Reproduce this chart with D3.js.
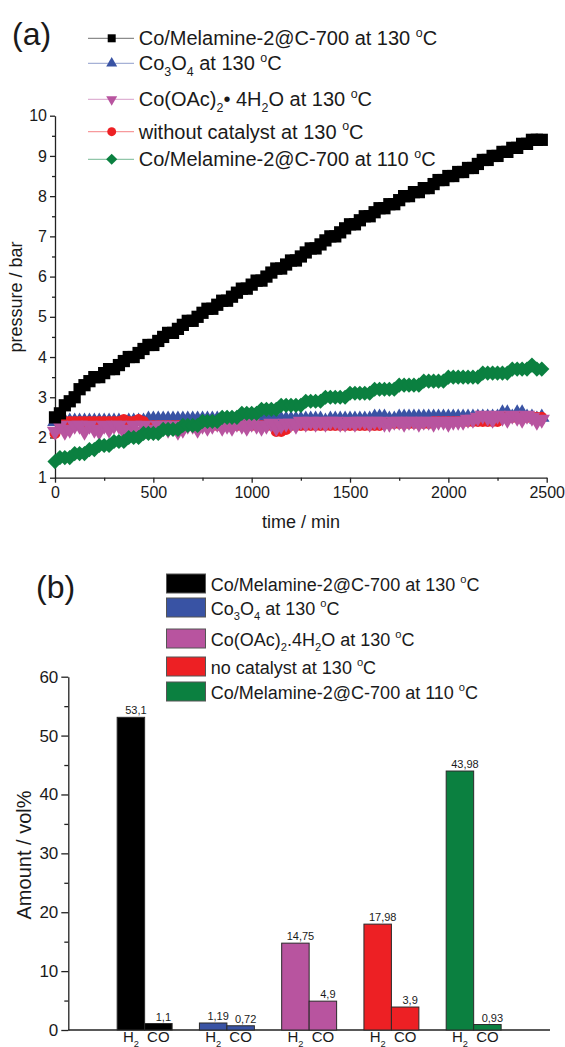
<!DOCTYPE html>
<html>
<head>
<meta charset="utf-8">
<script src="https://cdn.jsdelivr.net/npm/d3@7"></script>
<style>
  body { margin: 0; background: #fff; }
  svg text { font-family: "Liberation Sans", Arial, sans-serif; fill: #1a1a1a; }
</style>
</head>
<body>
<svg id="chart" width="565" height="1047"></svg>
<script>

//--data: panel (a), pressure logged every 25 min--//
var times = d3.range(0, 2500, 25);

var pMel130 = [2.5,2.6,2.8,2.9,3.0,3.2,3.3,3.4,3.5,3.5, 3.6,3.7,3.7,3.8,3.9,4.0,4.0,4.1,4.2,4.3,
  4.3,4.4,4.5,4.6,4.6,4.7,4.8,4.9,4.9,5.0, 5.1,5.2,5.2,5.3,5.4,5.4,5.5,5.6,5.7,5.7,
  5.8,5.9,5.9,6.0,6.1,6.2,6.2,6.3,6.4,6.4, 6.5,6.6,6.7,6.7,6.8,6.9,7.0,7.0,7.1,7.2,
  7.3,7.3,7.4,7.5,7.5,7.6,7.7,7.7,7.8,7.8, 7.9,8.0,8.0,8.1,8.1,8.2,8.2,8.3,8.4,8.4,
  8.5,8.5,8.6,8.6,8.7,8.7,8.8,8.9,8.9,9.0, 9.0,9.1,9.1,9.2,9.2,9.3,9.3,9.4,9.4,9.4];

var pCo3O4 = [2.4,2.4,2.4,2.4,2.4,2.4,2.4,2.4,2.4,2.4, 2.4,2.4,2.4,2.4,2.3,2.4,2.4,2.4,2.4,2.45,
  2.45,2.45,2.45,2.45,2.45,2.45,2.45,2.45,2.45,2.45, 2.45,2.45,2.45,2.45,2.45,2.45,2.45,2.45,2.45,2.45,
  2.45,2.45,2.45,2.45,2.45,2.45,2.45,2.45,2.45,2.45, 2.45,2.45,2.45,2.45,2.45,2.4,2.45,2.45,2.45,2.45,
  2.45,2.45,2.45,2.45,2.45,2.5,2.5,2.5,2.45,2.45, 2.5,2.5,2.5,2.5,2.5,2.5,2.5,2.5,2.5,2.5,
  2.5,2.5,2.5,2.5,2.5,2.5,2.5,2.5,2.5,2.5, 2.5,2.6,2.6,2.5,2.6,2.6,2.5,2.5,2.45,2.5];

var pCoOAc = [2.15,2.3,2.15,2.2,2.3,2.3,2.15,2.3,2.2,2.15, 2.3,2.2,2.3,2.3,2.15,2.2,2.3,2.15,2.3,2.2,
  2.15,2.3,2.3,2.2,2.3,2.15,2.2,2.3,2.3,2.2, 2.3,2.25,2.3,2.35,2.25,2.3,2.25,2.35,2.3,2.25,
  2.35,2.3,2.25,2.3,2.35,2.25,2.3,2.35,2.35,2.3, 2.4,2.35,2.4,2.35,2.4,2.35,2.4,2.4,2.35,2.35,
  2.4,2.35,2.4,2.4,2.35,2.4,2.4,2.35,2.35,2.4, 2.4,2.35,2.4,2.4,2.35,2.4,2.4,2.35,2.4,2.4,
  2.35,2.4,2.4,2.4,2.45,2.45,2.5,2.55,2.5,2.45, 2.55,2.5,2.45,2.55,2.5,2.45,2.55,2.5,2.4,2.45];

var pNoCat = [2.1,2.4,2.4,2.4,2.4,2.4,2.4,2.4,2.4,2.4, 2.4,2.4,2.4,2.4,2.45,2.4,2.4,2.45,2.4,2.3,
  2.3,2.3,2.3,2.3,2.3,2.3,2.3,2.3,2.3,2.3, 2.3,2.3,2.3,2.3,2.3,2.3,2.3,2.3,2.3,2.3,
  2.3,2.3,2.3,2.3,2.3,2.15,2.15,2.2,2.3,2.3, 2.3,2.3,2.3,2.3,2.3,2.3,2.3,2.3,2.3,2.3,
  2.3,2.3,2.3,2.3,2.3,2.3,2.3,2.35,2.35,2.35, 2.35,2.35,2.35,2.35,2.35,2.35,2.35,2.4,2.4,2.4,
  2.4,2.4,2.4,2.4,2.4,2.4,2.4,2.4,2.4,2.4, 2.4,2.5,2.5,2.5,2.5,2.5,2.5,2.5,2.5,2.5];

var pMel110 = [1.4,1.5,1.5,1.5,1.6,1.6,1.6,1.7,1.7,1.8, 1.8,1.8,1.9,1.9,1.9,2.0,2.0,2.0,2.1,2.1,
  2.1,2.1,2.2,2.2,2.2,2.2,2.3,2.3,2.3,2.3, 2.4,2.4,2.4,2.4,2.5,2.5,2.5,2.5,2.6,2.6,
  2.6,2.6,2.7,2.7,2.7,2.7,2.8,2.8,2.8,2.8, 2.8,2.9,2.9,2.9,2.9,3.0,3.0,3.0,3.0,3.0,
  3.1,3.1,3.1,3.1,3.1,3.2,3.2,3.2,3.2,3.2, 3.3,3.3,3.3,3.3,3.3,3.4,3.4,3.4,3.4,3.4,
  3.5,3.5,3.5,3.5,3.5,3.5,3.5,3.6,3.6,3.6, 3.6,3.6,3.6,3.7,3.7,3.7,3.7,3.8,3.7,3.7];

var xTicksA = [0, 500, 1000, 1500, 2000, 2500];
var yTicksA = [1, 2, 3, 4, 5, 6, 7, 8, 9, 10];

//--data: panel (b)--//
var samples = ["Mel130", "Co3O4", "CoOAc", "NoCat", "Mel110"];
var gases = ["H2", "CO"];
var h2Amount = [53.1, 1.19, 14.75, 17.98, 43.98];
var coAmount = [1.1, 0.72, 4.9, 3.9, 0.93];
var yTicksB = [0, 10, 20, 30, 40, 50, 60];

//--labels (text pieces: [text, "sub"|"sup"])--//
var labelsA = [
  [["Co/Melamine-2@C-700 at 130 "], ["o", "sup"], ["C"]],
  [["Co"], ["3", "sub"], ["O"], ["4", "sub"], [" at 130 "], ["o", "sup"], ["C"]],
  [["Co(OAc)"], ["2", "sub"], ["\u2022 4H"], ["2", "sub"], ["O at 130 "], ["o", "sup"], ["C"]],
  [["without catalyst at 130 "], ["o", "sup"], ["C"]],
  [["Co/Melamine-2@C-700 at 110 "], ["o", "sup"], ["C"]]
];
var labelsB = [
  [["Co/Melamine-2@C-700 at 130 "], ["o", "sup"], ["C"]],
  [["Co"], ["3", "sub"], ["O"], ["4", "sub"], [" at 130 "], ["o", "sup"], ["C"]],
  [["Co(OAc)"], ["2", "sub"], [".4H"], ["2", "sub"], ["O at 130 "], ["o", "sup"], ["C"]],
  [["no catalyst at 130 "], ["o", "sup"], ["C"]],
  [["Co/Melamine-2@C-700 at 110 "], ["o", "sup"], ["C"]]
];
var gasLabels = { H2: [["H"], ["2", "sub"]], CO: [["CO"]] };

//--colors--//
var colors = ["#000000", "#3953a4", "#b8549f", "#ed2024", "#0b8040"];

//--layout--//
var svg = d3.select("#chart");
var axisColor = "#222";

function richText(sel, parts, size) {
  var cur = 0;
  parts.forEach(function (p) {
    var off = p[1] === "sub" ? size * 0.3 : p[1] === "sup" ? -size * 0.42 : 0;
    sel.append("tspan")
      .attr("dy", off - cur)
      .style("font-size", p[1] ? (size * 0.62) + "px" : null)
      .text(p[0]);
    cur = off;
  });
}

function styleAxis(g, size) {
  g.selectAll(".domain").attr("stroke", axisColor).attr("stroke-width", 1.3);
  g.selectAll(".tick line").attr("stroke", axisColor).attr("stroke-width", 1.3);
  g.selectAll(".tick text").style("font-size", size + "px")
    .style("font-family", '"Liberation Sans", Arial, sans-serif').attr("fill", "#1a1a1a");
}

//--markers--//
var shapes = [
  { type: d3.symbolSquare, size: 150, rot: 0 },
  { type: d3.symbolTriangle, size: 105, rot: 0 },
  { type: d3.symbolTriangle, size: 115, rot: 180 },
  { type: d3.symbolCircle, size: 95, rot: 0 },
  { type: d3.symbolSquare, size: 115, rot: 45 }
];
var legendSize = [64, 52, 52, 62, 62];

//==== panel (a) ====//
var xA = d3.scaleLinear().domain([0, 2500]).range([55, 546.7]);
var yA = d3.scaleLinear().domain([1, 10]).range([477.7, 115.7]);

var gxMinorA = svg.append("g").attr("transform", "translate(0,477.7)")
  .call(d3.axisBottom(xA).tickValues(d3.range(250, 2500, 500)).tickSize(3).tickFormat(""));
var gxA = svg.append("g").attr("transform", "translate(0,477.7)")
  .call(d3.axisBottom(xA).tickValues(xTicksA).tickSize(5).tickSizeOuter(0).tickPadding(4)
    .tickFormat(d3.format("d")));
var gyMinorA = svg.append("g").attr("transform", "translate(55,0)")
  .call(d3.axisLeft(yA).tickValues(d3.range(1.5, 10, 1)).tickSize(3).tickFormat(""));
var gyA = svg.append("g").attr("transform", "translate(55,0)")
  .call(d3.axisLeft(yA).tickValues(yTicksA).tickSize(5).tickSizeOuter(0).tickPadding(3));
[gxMinorA, gyMinorA].forEach(function (g) { g.select(".domain").remove(); styleAxis(g, 16); });
styleAxis(gxA, 16);
styleAxis(gyA, 16);

svg.append("text").attr("x", 301).attr("y", 528).attr("text-anchor", "middle")
  .style("font-size", "18px").text("time / min");
svg.append("text").attr("transform", "translate(22,297) rotate(-90)").attr("text-anchor", "middle")
  .style("font-size", "18px").text("pressure / bar");
svg.append("text").attr("x", 12).attr("y", 45).style("font-size", "32px").text("(a)");

// draw order: Co3O4, no catalyst, Co(OAc)2, 110 C, 130 C
var seriesA = [pMel130, pCo3O4, pCoOAc, pNoCat, pMel110];
var drawOrder = [1, 3, 2, 4, 0];
var line = d3.line().x(function (d, i) { return xA(times[i]); }).y(function (d) { return yA(d); });

drawOrder.forEach(function (k) {
  var g = svg.append("g").attr("class", "series");
  g.append("path").datum(seriesA[k]).attr("d", line)
    .attr("fill", "none").attr("stroke", colors[k]).attr("stroke-width", 1);
  g.selectAll("path.pt").data(seriesA[k]).enter().append("path")
    .attr("class", "pt")
    .attr("d", d3.symbol().type(shapes[k].type).size(shapes[k].size))
    .attr("transform", function (d, i) {
      return "translate(" + xA(times[i]) + "," + yA(d) + ") rotate(" + shapes[k].rot + ")";
    })
    .attr("fill", colors[k]);
});

//--legend (a)--//
var legendRowsA = [38.3, 63.3, 99.3, 131.7, 159.3];
labelsA.forEach(function (lab, k) {
  var g = svg.append("g").attr("transform", "translate(0," + legendRowsA[k] + ")");
  g.append("line").attr("x1", 88).attr("x2", 134).attr("y1", 0).attr("y2", 0)
    .attr("stroke", colors[k]).attr("stroke-opacity", 0.45).attr("stroke-width", 1.2);
  g.append("path").attr("d", d3.symbol().type(shapes[k].type).size(legendSize[k]))
    .attr("transform", "translate(111.7,0) rotate(" + shapes[k].rot + ")")
    .attr("fill", colors[k]);
  var t = g.append("text").attr("x", 138.7).attr("y", 7).style("font-size", "20px");
  richText(t, lab, 20);
});

//==== panel (b) ====//
var yB = d3.scaleLinear().domain([0, 60]).range([1030, 676.7]);
var x0 = d3.scaleBand().domain(samples).range([68.3, 550]).paddingInner(0.332).paddingOuter(0.594);
var x1 = d3.scaleBand().domain(gases).range([0, x0.bandwidth()]);

var gyMinorB = svg.append("g").attr("transform", "translate(68.3,0)")
  .call(d3.axisLeft(yB).tickValues(d3.range(5, 60, 10)).tickSize(4).tickFormat(""));
gyMinorB.select(".domain").remove();
styleAxis(gyMinorB, 17);
var gyB = svg.append("g").attr("transform", "translate(68.3,0)")
  .call(d3.axisLeft(yB).tickValues(yTicksB).tickSize(7).tickSizeOuter(0).tickPadding(3));
styleAxis(gyB, 17);

svg.append("line").attr("x1", 68.3).attr("x2", 550).attr("y1", yB(0)).attr("y2", yB(0))
  .attr("stroke", axisColor).attr("stroke-width", 1.3);

svg.append("text").attr("transform", "translate(31,855) rotate(-90)").attr("text-anchor", "middle")
  .style("font-size", "20px").text("Amount / vol%");
svg.append("text").attr("x", 36).attr("y", 598).style("font-size", "32px").text("(b)");

var barData = samples.map(function (s, i) {
  return [{ s: s, i: i, gas: "H2", v: h2Amount[i] }, { s: s, i: i, gas: "CO", v: coAmount[i] }];
});

var groups = svg.selectAll("g.grp").data(barData).enter().append("g")
  .attr("class", "grp")
  .attr("transform", function (d) { return "translate(" + x0(d[0].s) + ",0)"; });

groups.selectAll("rect").data(function (d) { return d; }).enter().append("rect")
  .attr("x", function (d) { return x1(d.gas); })
  .attr("y", function (d) { return yB(d.v); })
  .attr("width", x1.bandwidth())
  .attr("height", function (d) { return yB(0) - yB(d.v); })
  .attr("fill", function (d) { return colors[d.i]; })
  .attr("stroke", "#2a2a2a").attr("stroke-width", 1);

groups.selectAll("text.val").data(function (d) { return d; }).enter().append("text")
  .attr("class", "val")
  .attr("x", function (d) { return x1(d.gas) + x1.bandwidth() / 2 + 5; })
  .attr("y", function (d) { return yB(d.v) - 3; })
  .attr("text-anchor", "middle").style("font-size", "11px")
  .text(function (d) { return String(d.v).replace(".", ","); });

groups.selectAll("text.gas").data(function (d) { return d; }).enter().append("text")
  .attr("class", "gas")
  .attr("x", function (d) { return x1(d.gas) + x1.bandwidth() / 2; })
  .attr("y", 1042)
  .attr("text-anchor", "middle").style("font-size", "15px")
  .each(function (d) { richText(d3.select(this), gasLabels[d.gas], 15); });

//--legend (b)--//
var legendRowsB = [574, 598, 629, 657, 682];
labelsB.forEach(function (lab, k) {
  var g = svg.append("g").attr("transform", "translate(0," + legendRowsB[k] + ")");
  g.append("rect").attr("x", 166.5).attr("y", 0).attr("width", 39).attr("height", 19)
    .attr("fill", colors[k]).attr("stroke", "#555").attr("stroke-width", 1);
  var t = g.append("text").attr("x", 210.8).attr("y", 16.5).style("font-size", "18px");
  richText(t, lab, 18);
});

</script>
</body>
</html>
